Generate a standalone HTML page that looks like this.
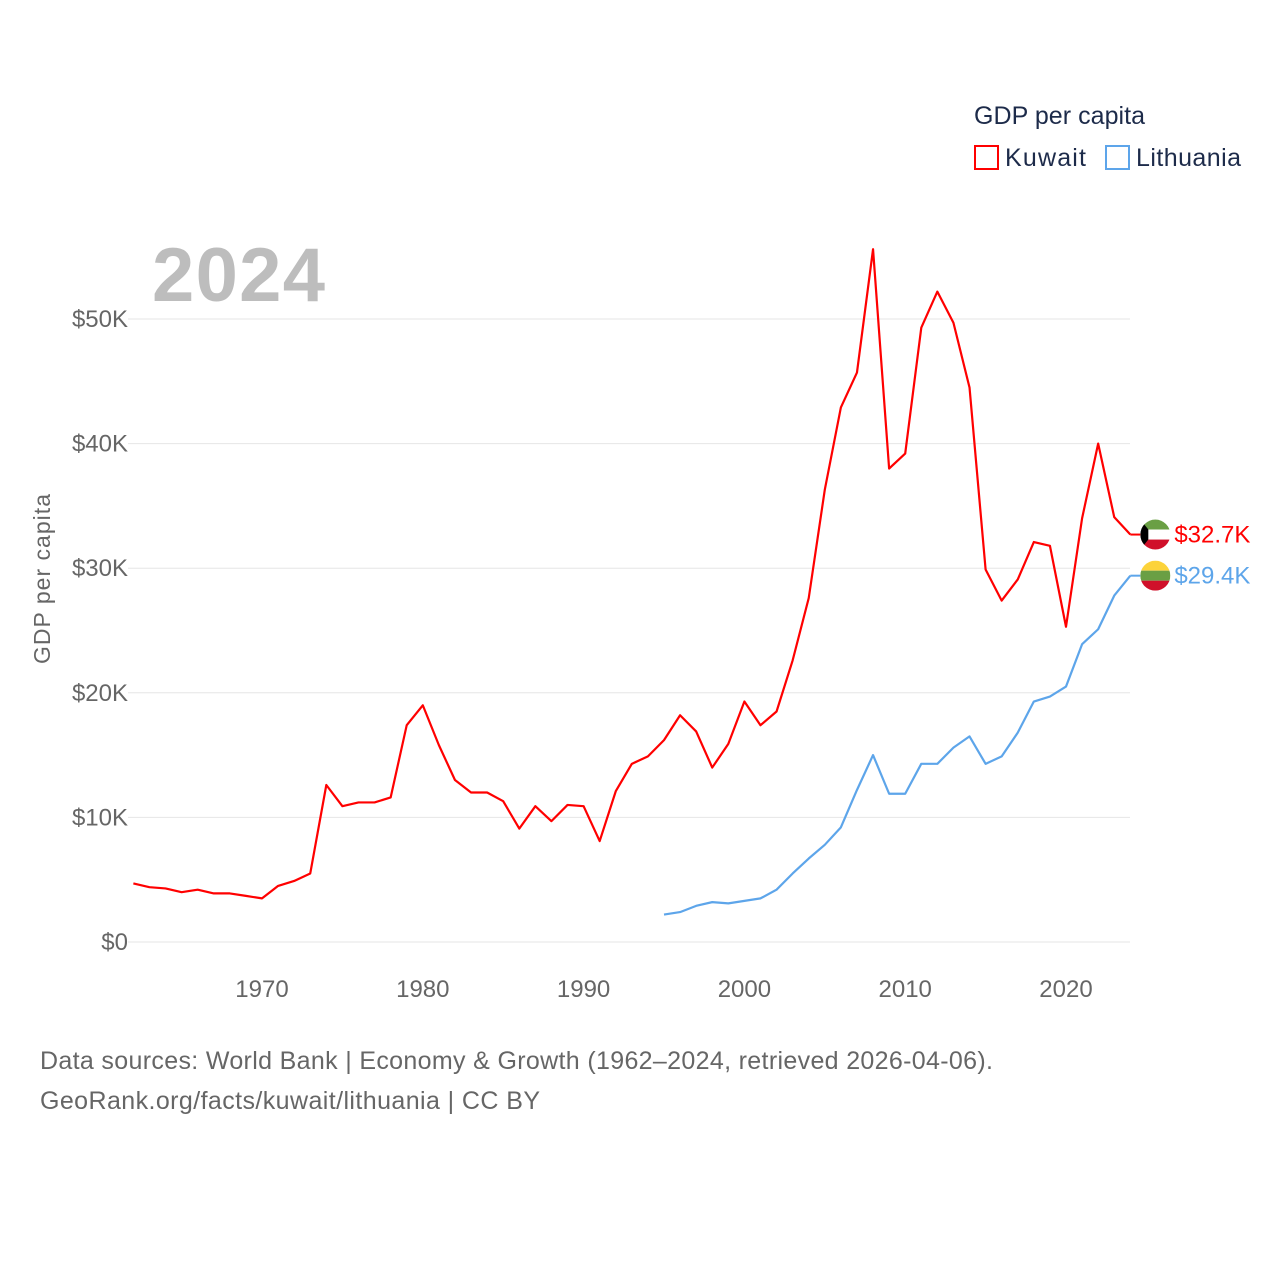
<!DOCTYPE html>
<html><head><meta charset="utf-8"><style>
body{margin:0;background:#fff;width:1280px;height:1280px;overflow:hidden;font-family:"Liberation Sans",sans-serif}
svg text{font-family:"Liberation Sans",sans-serif}
</style></head><body>
<svg id="chart" width="1280" height="1280" xmlns="http://www.w3.org/2000/svg">
<defs>
<clipPath id="kwc"><circle cx="0" cy="0" r="15"/></clipPath>
</defs>
<g id="grid"></g>
<g id="yticks"></g>
<g id="xticks"></g>
<text x="50" y="579" transform="rotate(-90 50 579)" text-anchor="middle" font-size="23" fill="#666" textLength="170">GDP per capita</text>
<text x="152" y="301" font-size="76" font-weight="bold" fill="#bdbdbd" textLength="173">2024</text>
<g id="series"></g>
<g>
<text x="974" y="124" font-size="25" fill="#1d2b4a" textLength="171">GDP per capita</text>
<g><rect x="975" y="146" width="23" height="23" fill="none" stroke="#f00" stroke-width="2"/><text x="1005" y="166" font-size="25" fill="#1d2b4a" textLength="81">Kuwait</text></g>
<g><rect x="1106" y="146" width="23" height="23" fill="none" stroke="#5da5ea" stroke-width="2"/><text x="1136" y="166" font-size="25" fill="#1d2b4a" textLength="105">Lithuania</text></g>
</g>
<text x="40" y="1069" font-size="25" fill="#666" textLength="953">Data sources: World Bank | Economy &amp; Growth (1962–2024, retrieved 2026-04-06).</text>
<text x="40" y="1109" font-size="25" fill="#666" textLength="500">GeoRank.org/facts/kuwait/lithuania | CC BY</text>
</svg>
<script>
const kuwaitYears=[];for(let y=1962;y<=2024;y++)kuwaitYears.push(y);
const kuwaitValues=[4.7,4.4,4.3,4.0,4.2,3.9,3.9,3.7,3.5,4.5,4.9,5.5,12.6,10.9,11.2,11.2,11.6,17.4,19.0,15.8,13.0,12.0,12.0,11.3,9.1,10.9,9.7,11.0,10.9,8.1,12.1,14.3,14.9,16.2,18.2,16.9,14.0,15.9,19.3,17.4,18.5,22.6,27.6,36.3,42.9,45.7,55.6,38.0,39.2,49.3,52.2,49.7,44.5,29.9,27.4,29.1,32.1,31.8,25.3,34.0,40.0,34.1,32.7];
const lithYears=[];for(let y=1995;y<=2024;y++)lithYears.push(y);
const lithValues=[2.2,2.4,2.9,3.2,3.1,3.3,3.5,4.2,5.5,6.7,7.8,9.2,12.2,15.0,11.9,11.9,14.3,14.3,15.6,16.5,14.3,14.9,16.8,19.3,19.7,20.5,23.9,25.1,27.8,29.4];
const yTicks=[0,10,20,30,40,50];
const yTickLabels=["$0","$10K","$20K","$30K","$40K","$50K"];
const xTicks=[1970,1980,1990,2000,2010,2020];
const NS="http://www.w3.org/2000/svg";
const xs=y=>262+(y-1970)*16.08;
const ys=v=>942-v*12.46;
function mk(tag,attrs,parent){const e=document.createElementNS(NS,tag);for(const k in attrs)e.setAttribute(k,attrs[k]);parent.appendChild(e);return e;}
const grid=document.getElementById('grid'),yt=document.getElementById('yticks'),xt=document.getElementById('xticks'),ser=document.getElementById('series');
yTicks.forEach((v,i)=>{
 const l=mk('line',{x1:128,x2:1130,y1:ys(v),y2:ys(v),stroke:'#e6e6e6','stroke-width':1},grid);
 
 
 const t=mk('text',{x:128,y:ys(v)+8,'text-anchor':'end','font-size':24,fill:'#666'},yt);
 t.textContent=yTickLabels[i];
 
 
});
xTicks.forEach(y=>{
 const t=mk('text',{x:xs(y),y:997,'text-anchor':'middle','font-size':24,fill:'#666'},xt);
 t.textContent=y;
 
 
});
function line(years,vals,color,name){
 const p=mk('polyline',{points:years.map((y,i)=>xs(y)+','+ys(vals[i])).join(' '),fill:'none',stroke:color,'stroke-width':2.2,'stroke-linejoin':'round'},ser);
 
 
}
line(kuwaitYears,kuwaitValues,'#f00','kuwait-line');
line(lithYears,lithValues,'#5da5ea','lithuania-line');
function endMarker(years,vals,color,name,flag){
 const y=years[years.length-1],v=vals[vals.length-1];
 const x0=xs(y),y0=ys(v);
 mk('line',{x1:x0,x2:x0+10,y1:y0,y2:y0,stroke:color,'stroke-width':2},ser);
 const g=mk('g',{transform:`translate(${x0+25},${y0})`},ser);
 
 
 const c=mk('g',{'clip-path':'url(#kwc)'},g);
 flag(c);
 const t=mk('text',{x:x0+44,y:y0+8,'font-size':24,fill:color},ser);
 t.textContent='$'+v.toFixed(1)+'K';
 
 
}
endMarker(kuwaitYears,kuwaitValues,'#f00','kuwait',c=>{
 mk('rect',{x:-15,y:-15,width:30,height:10,fill:'#6a9f44'},c);
 mk('rect',{x:-15,y:-5,width:30,height:10,fill:'#fff'},c);
 mk('rect',{x:-15,y:5,width:30,height:10,fill:'#d0102a'},c);
 mk('polygon',{points:'-15,-15 -7,-5 -7,5 -15,15',fill:'#000'},c);
});
endMarker(lithYears,lithValues,'#5da5ea','lithuania',c=>{
 mk('rect',{x:-15,y:-15,width:30,height:10,fill:'#fcd33a'},c);
 mk('rect',{x:-15,y:-5,width:30,height:10,fill:'#6a9f44'},c);
 mk('rect',{x:-15,y:5,width:30,height:10,fill:'#d0102a'},c);
});
</script>
</body></html>
